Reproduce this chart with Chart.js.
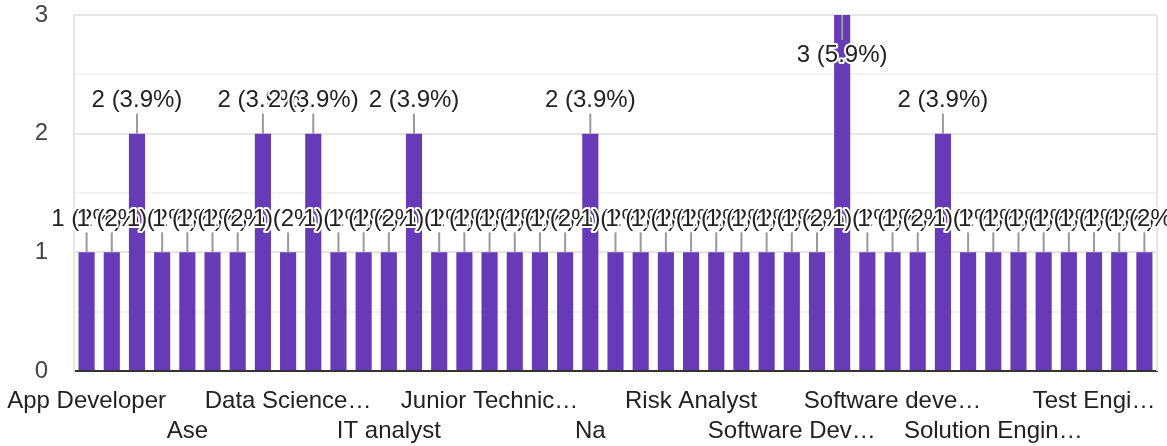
<!DOCTYPE html>
<html>
<head>
<meta charset="utf-8">
<script src="https://cdn.jsdelivr.net/npm/chart.js@4"></script>
<style>
  body { margin: 0; background: #fff; }
</style>
</head>
<body>
<canvas id="jobChart" width="1167" height="446"></canvas>
<script>
// Job titles (as shown, truncated ones keep their ellipsis)
const titles = [
    'App Developer', 'Application Developer', 'Architect', 'Area Manager',
    'Ase', 'Associate Consultant', 'Business Analyst', 'Cloud Engineer',
    'Data Science…', 'Data Scientist', 'Developer', 'Graduate Engineer Trainee',
    'IT analyst', 'IT consultant', 'Intern', 'Java Developer',
    'Junior Technic…', 'Lead Engineer', 'Manager', 'Member Technical Staff',
    'Na', 'Network Engineer', 'Programmer Analyst', 'Quality Analyst',
    'Risk Analyst', 'SDE', 'Senior Analyst', 'Software Consultant',
    'Software Dev…', 'Software Developer', 'Software Engineer', 'Software Trainee',
    'Software deve…', 'Software engineer', 'Solution Architect', 'Solution Consultant',
    'Solution Engin…', 'Student', 'System Engineer', 'Technical Analyst',
    'Test Engi…', 'Tester', 'Trainee'
];

const counts = [
    1, 1, 2, 1, 1, 1, 1, 2, 1, 2, 1, 1, 1, 2, 1, 1,
    1, 1, 1, 1, 2, 1, 1, 1, 1, 1, 1, 1, 1, 1, 3, 1,
    1, 1, 2, 1, 1, 1, 1, 1, 1, 1, 1
];

const yTicks = [0, 1, 2, 3];

const FONT = '"Liberation Sans", Arial, sans-serif';

// "n (p%)" labels with a small stem, white halo like google charts
const barLabels = {
    id: 'barLabels',
    afterDatasetsDraw(chart) {
        const { ctx, chartArea } = chart;
        const meta = chart.getDatasetMeta(0);
        const total = counts.reduce((a, b) => a + b, 0);
        ctx.save();
        ctx.font = '24px ' + FONT;
        ctx.textAlign = 'center';
        ctx.textBaseline = 'middle';
        ctx.lineJoin = 'round';
        meta.data.forEach((bar, i) => {
            const v = counts[i];
            const pct = Math.round(v / total * 1000) / 10;
            const text = v + ' (' + pct + '%)';
            let s1, s2, ty;
            if (bar.y - 48 < chartArea.top) {
                s1 = bar.y; s2 = bar.y + 25; ty = bar.y + 40;
            } else {
                s1 = bar.y - 20; s2 = bar.y; ty = bar.y - 33;
            }
            ctx.strokeStyle = '#999';
            ctx.lineWidth = 2;
            ctx.beginPath();
            ctx.moveTo(bar.x, s1);
            ctx.lineTo(bar.x, s2);
            ctx.stroke();
            ctx.strokeStyle = '#fff';
            ctx.lineWidth = 4;
            ctx.strokeText(text, bar.x, ty);
            ctx.fillStyle = '#222';
            ctx.fillText(text, bar.x, ty);
        });
        ctx.restore();
    },
    beforeDatasetsDraw(chart) {
        // right frame line
        const { ctx, chartArea } = chart;
        ctx.save();
        ctx.strokeStyle = '#e6e6e6';
        ctx.lineWidth = 2;
        ctx.beginPath();
        ctx.moveTo(chartArea.right, chartArea.top);
        ctx.lineTo(chartArea.right, chartArea.bottom);
        ctx.stroke();
        ctx.restore();
    }
};

new Chart(document.getElementById('jobChart'), {
    type: 'bar',
    data: {
        labels: titles,
        datasets: [{
            data: counts,
            backgroundColor: '#673ab7',
            barPercentage: 0.64,
            categoryPercentage: 1
        }]
    },
    options: {
        responsive: false,
        animation: false,
        layout: { padding: { top: 15, right: 10, left: 0, bottom: 0 } },
        plugins: {
            legend: { display: false },
            tooltip: { enabled: false }
        },
        scales: {
            x: {
                afterFit(scale) {
                    scale.height = 75;
                    scale.paddingLeft = 0;
                    scale.paddingRight = 0;
                },
                grid: { display: false },
                border: { display: true, color: '#333', width: 2 },
                ticks: {
                    autoSkip: false,
                    maxRotation: 0,
                    minRotation: 0,
                    padding: 7,
                    color: '#222',
                    font: { family: FONT, size: 24, lineHeight: 1.25 },
                    callback(value, index) {
                        if (index % 4) return null;
                        const label = this.getLabelForValue(value);
                        return (index / 4) % 2 ? ['', label] : label;
                    }
                }
            },
            y: {
                min: yTicks[0],
                max: yTicks[yTicks.length - 1],
                afterFit(scale) {
                    scale.width = 74;
                    scale.paddingTop = 0;
                    scale.paddingBottom = 0;
                },
                grid: {
                    drawTicks: false,
                    lineWidth: 2,
                    color: (c) => {
                        const v = c.tick ? c.tick.value : 0;
                        if (v === 0) return 'rgba(0,0,0,0)';
                        return Number.isInteger(v) ? '#e6e6e6' : '#f3f3f3';
                    }
                },
                border: { display: true, color: '#e6e6e6', width: 2 },
                ticks: {
                    stepSize: 0.5,
                    padding: 26,
                    color: '#444',
                    font: { family: FONT, size: 24, lineHeight: 1.25 },
                    callback: (v) => yTicks.includes(v) ? v : ''
                }
            }
        }
    },
    plugins: [barLabels]
});
</script>
</body>
</html>
